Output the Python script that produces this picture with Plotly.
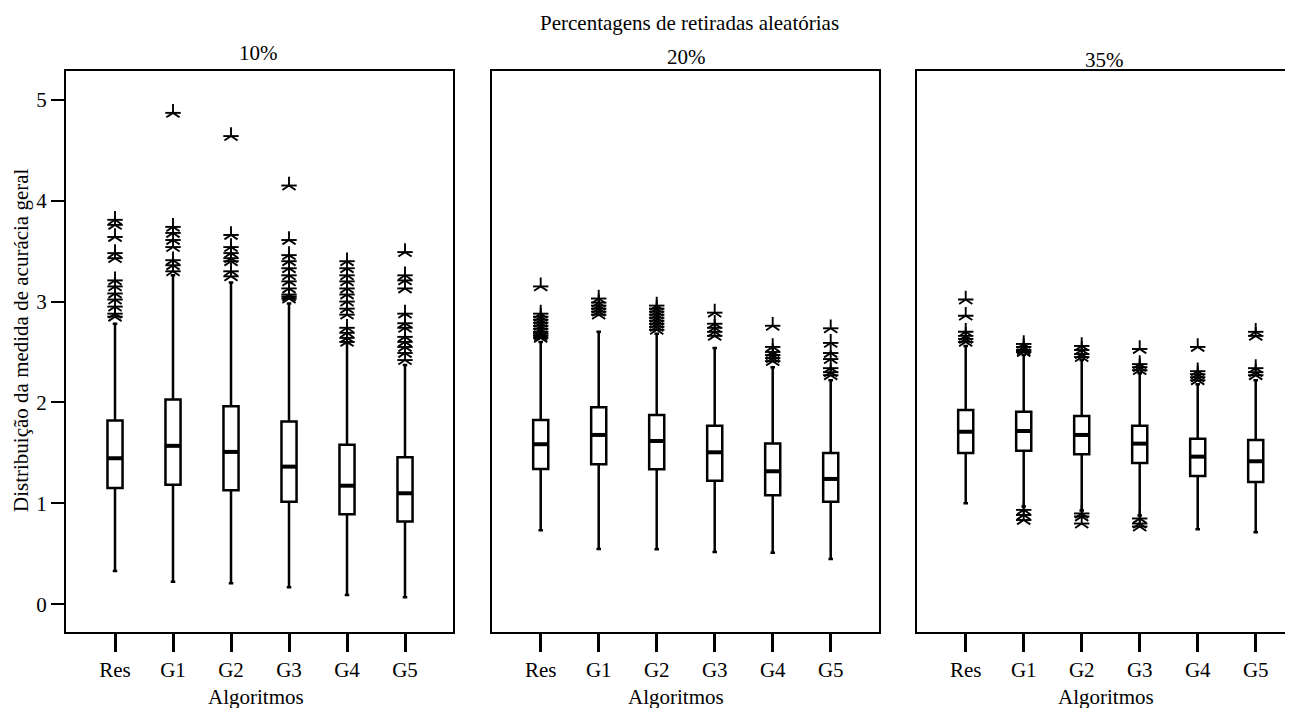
import plotly.graph_objects as go

# The page body has an 8 px margin, so reference pixel p maps to figure pixel p - 8.
OFF = 8
W, H = 1293 - OFF, 708 - OFF
FONT = "Liberation Serif"
FS = 21

categories = ["Res", "G1", "G2", "G3", "G4", "G5"]
panel_titles = ["10%", "20%", "35%"]
main_title = "Percentagens de retiradas aleatórias"
x_title = "Algoritmos"
y_title = "Distribuição da medida de acurácia geral"
y_ticks = [0, 1, 2, 3, 4, 5]

# ---- 10% ----
p10_lowerfence = [0.33, 0.224, 0.208, 0.168, 0.092, 0.069]
p10_q1 = [1.153, 1.185, 1.13, 1.017, 0.892, 0.819]
p10_median = [1.447, 1.57, 1.51, 1.364, 1.175, 1.10]
p10_q3 = [1.82, 2.03, 1.962, 1.81, 1.58, 1.457]
p10_upperfence = [2.78, 3.26, 3.19, 2.98, 2.59, 2.37]
p10_outliers = [
    [3.81, 3.76, 3.64, 3.48, 3.43, 3.21, 3.15, 3.08, 3.02, 2.95, 2.88, 2.85],
    [4.87, 3.74, 3.68, 3.61, 3.54, 3.41, 3.36, 3.30],
    [4.64, 3.66, 3.54, 3.48, 3.43, 3.40, 3.30, 3.25],
    [4.15, 3.61, 3.46, 3.40, 3.33, 3.26, 3.20, 3.13, 3.07, 3.05, 3.03],
    [3.40, 3.33, 3.26, 3.20, 3.13, 3.07, 3.00, 2.93, 2.87, 2.74, 2.69, 2.64, 2.60],
    [3.49, 3.26, 3.21, 3.13, 2.88, 2.785, 2.74, 2.65, 2.60, 2.55, 2.49, 2.42],
]

# ---- 20% ----
p20_lowerfence = [0.733, 0.548, 0.545, 0.518, 0.51, 0.449]
p20_q1 = [1.341, 1.387, 1.338, 1.225, 1.08, 1.017]
p20_median = [1.586, 1.678, 1.618, 1.506, 1.318, 1.242]
p20_q3 = [1.827, 1.952, 1.876, 1.77, 1.592, 1.50]
p20_upperfence = [2.60, 2.70, 2.68, 2.54, 2.35, 2.22]
p20_outliers = [
    [3.15, 2.88, 2.85, 2.82, 2.79, 2.76, 2.73, 2.70, 2.68, 2.66, 2.64],
    [3.03, 2.99, 2.96, 2.93, 2.90, 2.87],
    [2.96, 2.93, 2.90, 2.87, 2.84, 2.81, 2.78, 2.75, 2.72],
    [2.89, 2.78, 2.74, 2.70, 2.66],
    [2.76, 2.55, 2.50, 2.47, 2.44, 2.41],
    [2.735, 2.59, 2.49, 2.43, 2.34, 2.30, 2.27],
]

# ---- 35% ----
p35_lowerfence = [1.00, 0.97, 0.93, 0.88, 0.743, 0.713]
p35_q1 = [1.50, 1.522, 1.486, 1.40, 1.272, 1.212]
p35_median = [1.71, 1.717, 1.678, 1.592, 1.463, 1.417]
p35_q3 = [1.926, 1.909, 1.866, 1.77, 1.641, 1.628]
p35_upperfence = [2.56, 2.47, 2.42, 2.29, 2.18, 2.22]
p35_outliers = [
    [3.02, 2.86, 2.70, 2.66, 2.63, 2.60],
    [2.58, 2.55, 2.52, 2.50, 0.935, 0.885, 0.835],
    [2.56, 2.52, 2.48, 2.45, 0.90, 0.87, 0.80],
    [2.53, 2.38, 2.35, 2.32, 0.85, 0.80, 0.77],
    [2.55, 2.31, 2.28, 2.25, 2.22],
    [2.70, 2.66, 2.34, 2.30, 2.27],
]

panels = [
    (p10_lowerfence, p10_q1, p10_median, p10_q3, p10_upperfence, p10_outliers),
    (p20_lowerfence, p20_q1, p20_median, p20_q3, p20_upperfence, p20_outliers),
    (p35_lowerfence, p35_q1, p35_median, p35_q3, p35_upperfence, p35_outliers),
]

# layout geometry (reference pixels)
px_domains = [(66, 453), (491.7, 879), (916.7, 1293)]
top_px, bot_px = 71, 632
unit_px = 58.0
x_left_off = 0.845
y_range = [-0.275, 5.285]


def fx(p):
    return (p - OFF) / W


def fy(p):
    return 1 - (p - OFF) / H


fig = go.Figure()
for i, (lf, q1, med, q3, uf, outs) in enumerate(panels):
    sfx = "" if i == 0 else str(i + 1)
    fig.add_trace(go.Box(
        x=categories, q1=q1, median=med, q3=q3, lowerfence=lf, upperfence=uf,
        boxpoints=False, fillcolor="white", width=0.26, whiskerwidth=0.3,
        line=dict(color="black", width=2.5), xaxis="x" + sfx, yaxis="y" + sfx,
        showlegend=False, hoverinfo="skip"))
    # thicker median bars
    fig.add_trace(go.Scatter(
        x=categories, y=med, mode="markers", xaxis="x" + sfx, yaxis="y" + sfx,
        marker=dict(symbol="line-ew-open", size=10.5, color="black",
                    line=dict(color="black", width=4)),
        showlegend=False, hoverinfo="skip"))
    ox, oy = [], []
    for c, vals in zip(categories, outs):
        for v in vals:
            ox.append(c)
            oy.append(v)
    for sym in ["y-up-open", "line-ew-open"]:
        fig.add_trace(go.Scatter(
            x=ox, y=oy, mode="markers", xaxis="x" + sfx, yaxis="y" + sfx,
            marker=dict(symbol=sym, size=11, color="black",
                        line=dict(color="black", width=1.9)),
            showlegend=False, hoverinfo="skip"))

layout = dict(
    width=W, height=H, autosize=False,
    margin=dict(l=0, r=0, t=0, b=0),
    paper_bgcolor="white", plot_bgcolor="white",
    font=dict(family=FONT, size=FS, color="black"),
    boxmode="group",
)
ydom = [fy(bot_px), fy(top_px)]
annotations = []
title_pos = [(258.3, 52.5), (686.7, 56.7), (1104, 59.7)]
xt_pos = [256, 676, 1106]
for i, (x0, x1) in enumerate(px_domains):
    sfx = "" if i == 0 else str(i + 1)
    npx = x1 - x0
    xr = [-x_left_off, -x_left_off + npx / unit_px]
    layout["xaxis" + sfx] = dict(
        domain=[fx(x0), min(1.0, fx(x1))], type="category", range=xr,
        categoryorder="array", categoryarray=categories,
        showline=True, linecolor="black", linewidth=2, mirror=True,
        ticks="outside", ticklen=18, tickwidth=2.5, tickcolor="black",
        showgrid=False, zeroline=False, ticklabelstandoff=0,
        tickfont=dict(family=FONT, size=FS, color="black"),
        anchor="y" + sfx,
    )
    ydict = dict(
        domain=ydom, range=y_range, showline=True, linecolor="black",
        linewidth=2, mirror=(i < 2), showgrid=False, zeroline=False,
        anchor="x" + sfx,
    )
    if i == 0:
        ydict.update(tickvals=y_ticks, ticks="outside", ticklen=13, tickwidth=2,
                     tickcolor="black", tickfont=dict(family=FONT, size=FS, color="black"))
    else:
        ydict.update(showticklabels=False, ticks="")
    layout["yaxis" + sfx] = ydict
    annotations.append(dict(text=panel_titles[i], x=fx(title_pos[i][0]), y=fy(title_pos[i][1]),
                            xref="paper", yref="paper", showarrow=False,
                            xanchor="center", yanchor="middle", font=dict(size=FS)))
    annotations.append(dict(text=x_title, x=fx(xt_pos[i]), y=fy(697),
                            xref="paper", yref="paper", showarrow=False,
                            xanchor="center", yanchor="middle", font=dict(size=FS)))

annotations.append(dict(text=main_title, x=fx(689), y=fy(23), xref="paper", yref="paper",
                        showarrow=False, xanchor="center", yanchor="middle", font=dict(size=FS)))
annotations.append(dict(text=y_title, x=fx(21), y=fy(340), xref="paper", yref="paper",
                        showarrow=False, textangle=-90, xanchor="center", yanchor="middle",
                        font=dict(size=FS)))
layout["annotations"] = annotations
fig.update_layout(**layout)

fig.write_html("out.html", config={"displayModeBar": False})
